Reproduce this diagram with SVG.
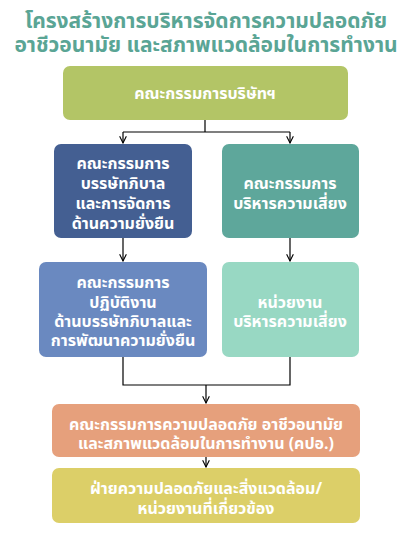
<svg xmlns="http://www.w3.org/2000/svg" width="408" height="540" viewBox="0 0 408 540">
<defs>
<style>
.t{font-family:"Noto Sans Thai","Noto Sans","DejaVu Sans",sans-serif;font-weight:700;fill:#fff;font-size:16px;text-anchor:middle}
.h{font-family:"Noto Sans Thai","Noto Sans","DejaVu Sans",sans-serif;font-weight:700;fill:#5aa595;font-size:21px;text-anchor:middle}
.c{fill:none;stroke:#000;stroke-width:1.2}
</style>
<marker id="a" viewBox="0 0 10 10" refX="9" refY="5" markerWidth="7" markerHeight="7" orient="auto">
<path d="M1,1 L9,5 L1,9" fill="none" stroke="#000" stroke-width="1.3"/>
</marker>
</defs>
<rect width="408" height="540" fill="#fff"/>
<g id="title">
<text class="h" x="206" y="28">โครงสร้างการบริหารจัดการความปลอดภัย</text>
<text class="h" x="206" y="52">อาชีวอนามัย และสภาพแวดล้อมในการทำงาน</text>
</g>
<g id="connectors">
<path class="c" d="M205,120 V132 M123,132 H290"/>
<path class="c" d="M123,132 V143" marker-end="url(#a)"/>
<path class="c" d="M290,132 V143" marker-end="url(#a)"/>
<path class="c" d="M123,238 V261" marker-end="url(#a)"/>
<path class="c" d="M290,238 V261" marker-end="url(#a)"/>
<path class="c" d="M123,357 V385 H290 V357"/>
<path class="c" d="M206,385 V403" marker-end="url(#a)"/>
<path class="c" d="M206,457 V467" marker-end="url(#a)"/>
</g>
<g id="board">
<rect x="63" y="66" width="285" height="54" rx="7" fill="#b3c566"/>
<text class="t" x="205" y="99">คณะกรรมการบริษัทฯ</text>
</g>
<g id="gov">
<rect x="54" y="144" width="138" height="94" rx="7" fill="#445f92"/>
<text class="t" x="123" y="169">คณะกรรมการ</text>
<text class="t" x="123" y="189">บรรษัทภิบาล</text>
<text class="t" x="123" y="209">และการจัดการ</text>
<text class="t" x="123" y="229">ด้านความยั่งยืน</text>
</g>
<g id="risk">
<rect x="222" y="144" width="137" height="94" rx="7" fill="#5ea79b"/>
<text class="t" x="290" y="189">คณะกรรมการ</text>
<text class="t" x="290" y="209">บริหารความเสี่ยง</text>
</g>
<g id="govwork">
<rect x="39" y="262" width="168" height="95" rx="7" fill="#6a89c0"/>
<text class="t" x="123" y="288">คณะกรรมการ</text>
<text class="t" x="123" y="308">ปฏิบัติงาน</text>
<text class="t" x="123" y="327">ด้านบรรษัทภิบาลและ</text>
<text class="t" x="123" y="346">การพัฒนาความยั่งยืน</text>
</g>
<g id="riskunit">
<rect x="222" y="262" width="137" height="95" rx="7" fill="#98d8c3"/>
<text class="t" x="290" y="308">หน่วยงาน</text>
<text class="t" x="290" y="327">บริหารความเสี่ยง</text>
</g>
<g id="safety">
<rect x="52" y="404" width="308" height="53" rx="7" fill="#e6a07c"/>
<text class="t" x="206" y="430">คณะกรรมการความปลอดภัย อาชีวอนามัย</text>
<text class="t" x="206" y="449">และสภาพแวดล้อมในการทำงาน (คปอ.)</text>
</g>
<g id="dept">
<rect x="52" y="468" width="308" height="55" rx="7" fill="#dccf68"/>
<text class="t" x="206" y="494">ฝ่ายความปลอดภัยและสิ่งแวดล้อม/</text>
<text class="t" x="206" y="514">หน่วยงานที่เกี่ยวข้อง</text>
</g>
</svg>
